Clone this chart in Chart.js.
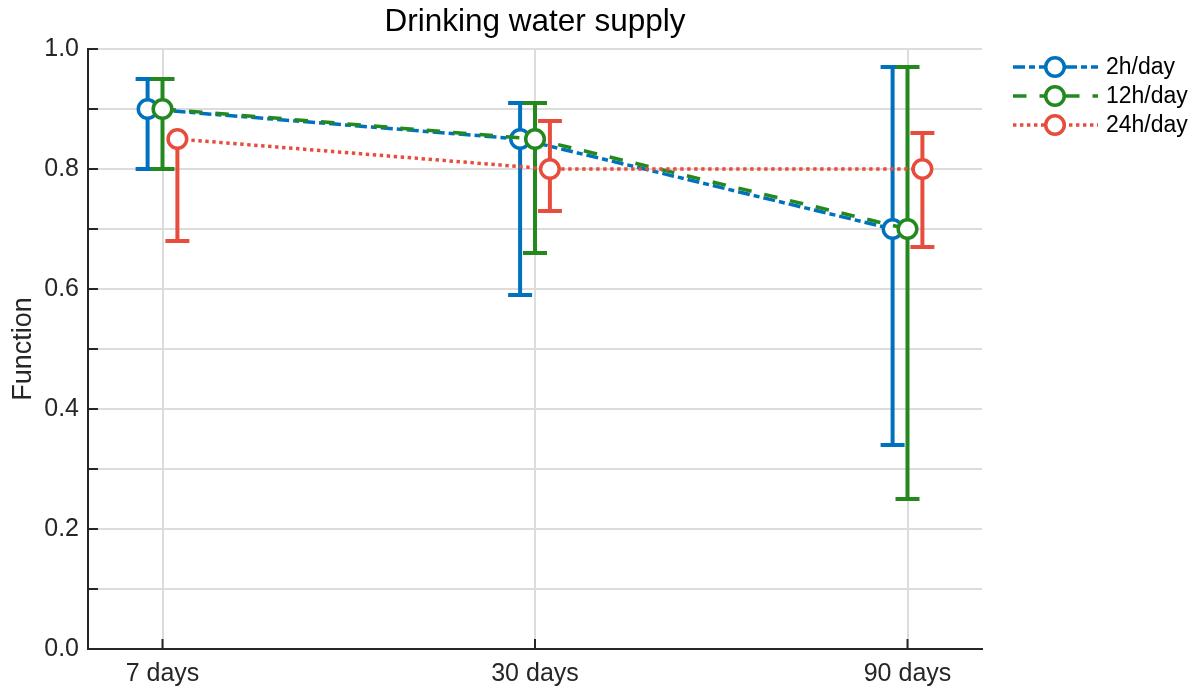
<!DOCTYPE html>
<html><head><meta charset="utf-8">
<script src="https://cdn.jsdelivr.net/npm/chart.js@4/dist/chart.umd.min.js"></script>
<style>html,body{margin:0;padding:0;background:#fff}#wrap{width:1198px;height:691px}</style>
</head><body><div id="wrap"><canvas id="c" width="1198" height="691"></canvas></div>
<script>
// ---- data ----
const categories = ['7 days', '30 days', '90 days'];
const seriesLabels = ['2h/day', '12h/day', '24h/day'];
const mean2h  = [0.90, 0.85, 0.70];
const low2h   = [0.80, 0.59, 0.34];
const high2h  = [0.95, 0.91, 0.97];
const mean12h = [0.90, 0.85, 0.70];
const low12h  = [0.80, 0.66, 0.25];
const high12h = [0.95, 0.91, 0.97];
const mean24h = [0.85, 0.80, 0.80];
const low24h  = [0.68, 0.73, 0.67];
const high24h = [0.85, 0.88, 0.86];
const yTickLabels = [0, 0.2, 0.4, 0.6, 0.8, 1.0];
const titleText = 'Drinking water supply';
const yTitle = 'Function';

// ---- styling ----
const FONT = "'Liberation Sans', Arial, Helvetica, sans-serif";
const TXT = '#262626';
const colors = ['#0072BD', '#23891E', '#E74C3C'];
const dashes = [[12, 4, 6, 4], [13.5, 13], [3.4, 3.6]];
const offsets = [-0.04, 0, 0.04];
const means = [mean2h, mean12h, mean24h];
const lows = [low2h, low12h, low24h];
const highs = [high2h, high12h, high24h];

const datasets = seriesLabels.map((lab, s) => ({
  label: lab,
  data: categories.map((c, i) => ({ x: i + offsets[s], y: means[s][i] })),
  errLow: lows[s],
  errHigh: highs[s],
  borderColor: colors[s],
  backgroundColor: '#fff',
  pointBackgroundColor: '#fff',
  pointBorderColor: colors[s],
  pointRadius: 9.3,
  pointHoverRadius: 9.3,
  pointBorderWidth: 3.5,
  borderWidth: 3.5,
  borderDash: dashes[s],
  borderCapStyle: 'butt',
  tension: 0,
  fill: false,
  order: 3 - s
}));

const errorBars = {
  id: 'errorBars',
  beforeDatasetDraw(chart, args) {
    const ds = chart.data.datasets[args.index];
    const xs = chart.scales.x, ys = chart.scales.y, ctx = chart.ctx;
    ctx.save();
    ctx.strokeStyle = ds.borderColor;
    ctx.lineWidth = 4;
    ctx.setLineDash([]);
    ctx.lineCap = 'butt';
    const cap = 12;
    ds.data.forEach((p, i) => {
      const x = xs.getPixelForValue(p.x);
      const yl = ys.getPixelForValue(ds.errLow[i]);
      const yh = ys.getPixelForValue(ds.errHigh[i]);
      ctx.beginPath(); ctx.moveTo(x, yl); ctx.lineTo(x, yh); ctx.stroke();
      [[ds.errLow[i], yl], [ds.errHigh[i], yh]].forEach(([v, py]) => {
        if (Math.abs(v - p.y) > 1e-9) {
          ctx.beginPath(); ctx.moveTo(x - cap, py); ctx.lineTo(x + cap, py); ctx.stroke();
        }
      });
    });
    ctx.restore();
  }
};

const decorations = {
  id: 'decorations',
  afterDraw(chart) {
    const ctx = chart.ctx, a = chart.chartArea;
    const xs = chart.scales.x, ys = chart.scales.y;
    ctx.save();
    // inward ticks
    ctx.strokeStyle = TXT; ctx.lineWidth = 2; ctx.setLineDash([]);
    ys.ticks.forEach(t => {
      const y = ys.getPixelForValue(t.value);
      ctx.beginPath(); ctx.moveTo(a.left, y); ctx.lineTo(a.left + 10, y); ctx.stroke();
    });
    xs.ticks.forEach(t => {
      const x = xs.getPixelForValue(t.value);
      ctx.beginPath(); ctx.moveTo(x, a.bottom); ctx.lineTo(x, a.bottom - 10); ctx.stroke();
    });
    // title
    ctx.fillStyle = '#000';
    ctx.font = '31.5px ' + FONT;
    ctx.textAlign = 'center'; ctx.textBaseline = 'middle';
    ctx.fillText(titleText, (a.left + a.right) / 2, 22);
    // legend
    const rows = [67, 96, 125];
    chart.data.datasets.forEach((ds, s) => {
      const y = rows[s];
      ctx.strokeStyle = ds.borderColor; ctx.lineWidth = 3.5;
      ctx.setLineDash(ds.borderDash); ctx.lineCap = 'butt';
      ctx.beginPath(); ctx.moveTo(1013, y); ctx.lineTo(1098, y); ctx.stroke();
      ctx.setLineDash([]);
      ctx.beginPath(); ctx.arc(1055, y, 9.3, 0, Math.PI * 2);
      ctx.fillStyle = '#fff'; ctx.fill(); ctx.stroke();
      ctx.fillStyle = '#000';
      ctx.font = '23px ' + FONT;
      ctx.textAlign = 'left'; ctx.textBaseline = 'middle';
      ctx.fillText(ds.label, 1106, y + 1);
    });
    ctx.restore();
  }
};

new Chart(document.getElementById('c'), {
  type: 'line',
  data: { datasets },
  plugins: [errorBars, decorations],
  options: {
    responsive: false,
    animation: false,
    devicePixelRatio: 1,
    layout: { padding: { top: 49, right: 216, bottom: 0, left: 0 } },
    plugins: { legend: { display: false }, title: { display: false }, tooltip: { enabled: false } },
    scales: {
      x: {
        type: 'linear', min: -0.2, max: 2.2,
        afterBuildTicks: s => { s.ticks = categories.map((c, i) => ({ value: i })); },
        afterFit: s => { s.height = 42; },
        ticks: { callback: v => categories[Math.round(v)] ?? '', color: TXT, font: { size: 25, family: FONT }, padding: 10, maxRotation: 0, autoSkip: false },
        grid: { color: '#dcdcdc', lineWidth: 2, drawTicks: false },
        border: { display: true, color: TXT, width: 2 }
      },
      y: {
        min: 0, max: 1,
        afterFit: s => { s.width = 88; },
        ticks: {
          stepSize: 0.1,
          callback: v => { const t = yTickLabels.find(k => Math.abs(k - v) < 1e-6); return t === undefined ? '' : t.toFixed(1); },
          color: TXT, font: { size: 25, family: FONT }, padding: 9, autoSkip: false
        },
        grid: { color: '#dcdcdc', lineWidth: 2, drawTicks: false },
        border: { display: true, color: TXT, width: 2 },
        title: { display: true, text: yTitle, color: TXT, font: { size: 27, family: FONT }, padding: { top: 7, bottom: 0 } }
      }
    }
  }
});
</script></body></html>
